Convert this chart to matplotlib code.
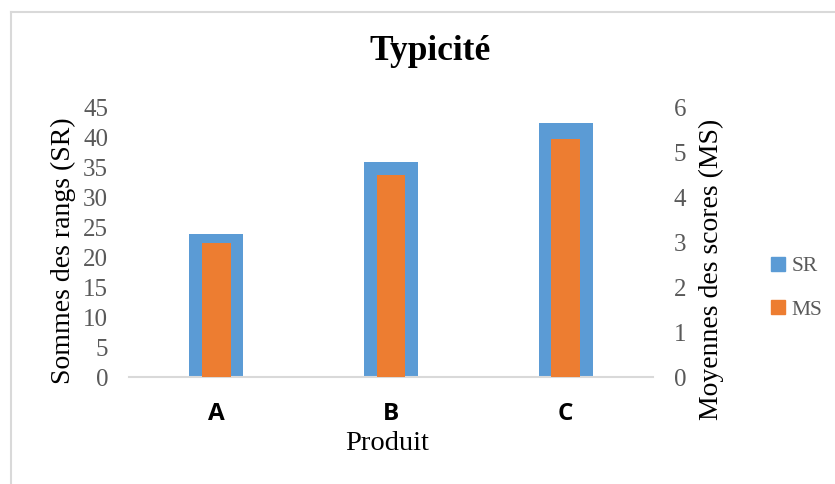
import matplotlib.pyplot as plt
from matplotlib.lines import Line2D

# Données du graphique
produits = ['A', 'B', 'C']
sommes_rangs = [24, 36, 42.5]       # SR, axe de gauche
moyennes_scores = [3.0, 4.5, 5.3]   # MS, axe de droite

BLEU = '#5B9BD5'
ORANGE = '#ED7D31'
GRIS = '#595959'
SERIF = 'Liberation Serif'

fig = plt.figure(figsize=(8.35, 4.84), dpi=100)
ax = fig.add_axes([129 / 835, 1 - 377 / 484, 524 / 835, 269 / 484])
ax2 = ax.twinx()

x = range(len(produits))
ax.bar(x, sommes_rangs, width=0.31, color=BLEU, zorder=2)
ax2.bar(x, moyennes_scores, width=0.166, color=ORANGE, zorder=3)

ax.set_xlim(-0.5, 2.5)
ax.set_ylim(0, 45)
ax2.set_ylim(0, 6)
ax.set_yticks(range(0, 46, 5))
ax2.set_yticks(range(0, 7))

# Axes sans cadre, seulement la ligne de base grise
for a in (ax, ax2):
    for s in a.spines.values():
        s.set_visible(False)
ax.spines['bottom'].set_visible(True)
ax.spines['bottom'].set_color('#D9D9D9')
ax.spines['bottom'].set_linewidth(1.5)

ax.tick_params(axis='y', length=0, pad=15, labelsize=18, labelcolor=GRIS)
ax2.tick_params(axis='y', length=0, pad=15, labelsize=18, labelcolor=GRIS)
for lab in ax.get_yticklabels() + ax2.get_yticklabels():
    lab.set_fontfamily(SERIF)

ax.set_xticks(list(x))
ax.set_xticklabels(produits, fontfamily='Open Sans', fontweight='bold', fontsize=17.5)
ax.tick_params(axis='x', length=0, pad=18)

# Titres
fig.text(430 / 835, 1 - 52 / 484, 'Typicité', ha='center', va='center',
         fontfamily=SERIF, fontweight='bold', fontsize=25.5)
fig.text(63 / 835, 1 - 251 / 484, 'Sommes des rangs (SR)', rotation=90,
         ha='center', va='center', fontfamily=SERIF, fontsize=20)
fig.text(711 / 835, 1 - 269 / 484, 'Moyennes des scores (MS)', rotation=90,
         ha='center', va='center', fontfamily=SERIF, fontsize=20)
fig.text(387 / 835, 1 - 444 / 484, 'Produit', ha='center', va='center',
         fontfamily=SERIF, fontsize=20.5)

# Légende
handles = [Line2D([], [], ls='', marker='s', markersize=9.5, color=BLEU),
           Line2D([], [], ls='', marker='s', markersize=9.5, color=ORANGE)]
leg = fig.legend(handles, ['SR', 'MS'], loc='center left',
                 bbox_to_anchor=(751 / 835, 1 - 288 / 484), frameon=False,
                 handlelength=0.7, handletextpad=0.3, labelspacing=1.1,
                 prop={'family': SERIF, 'size': 15.5})
for t in leg.get_texts():
    t.set_color(GRIS)

# Cadre de la zone de graphique
fig.add_artist(Line2D([11 / 835, 1], [1 - 12 / 484, 1 - 12 / 484], color='#D9D9D9', lw=1.5))
fig.add_artist(Line2D([11 / 835, 11 / 835], [0, 1 - 12 / 484], color='#D9D9D9', lw=1.5))

fig.savefig('out.png', dpi=100)
